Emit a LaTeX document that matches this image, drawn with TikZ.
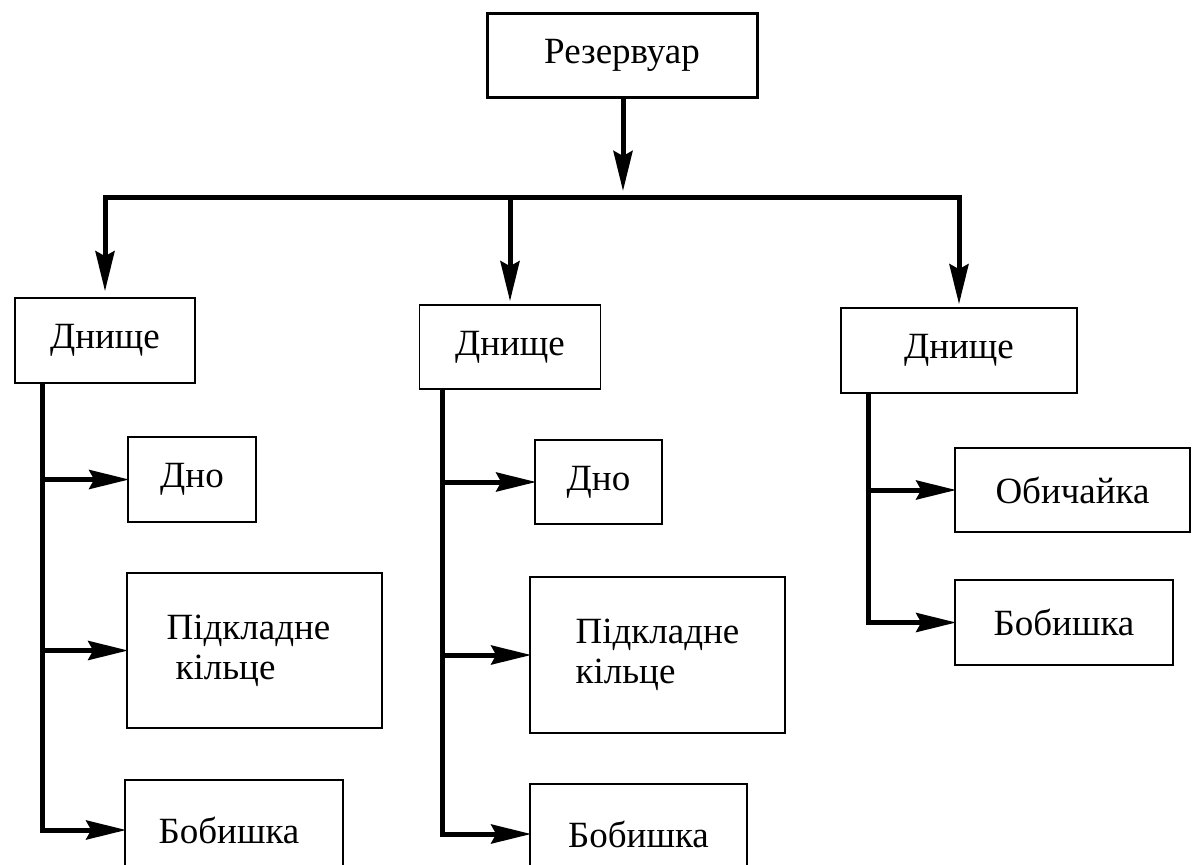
\documentclass[tikz,border=0pt]{standalone}
\usepackage{fontspec}
\setmainfont{Liberation Serif}
\usetikzlibrary{arrows.meta}
\begin{document}
\begin{tikzpicture}[x=1pt,y=-1pt,
  box/.style={draw, line width=1.6pt, rectangle, inner sep=0pt, font=\fontsize{37}{40}\selectfont},
  conn/.style={line width=5pt},
  arr/.style={conn, shorten >=-2pt, -{Stealth[length=40pt 0 0,width=19pt 0 0,inset=5pt]}}]
\clip (0,0) rectangle (1192,865);
\fill[white] (0,0) rectangle (1192,865);
% top
\node[box, line width=3pt, minimum width=270pt, minimum height=84pt] (res) at (622,55) {Резервуар};
% level 2
\node[box, minimum width=180pt, minimum height=85pt] (d1) at (105,340.5) {Днище};
\node[box, minimum width=181pt, minimum height=84pt] (d2) at (510,347) {Днище};
\node[box, minimum width=236pt, minimum height=85pt] (d3) at (959,350.5) {Днище};
% left column
\node[box, minimum width=128pt, minimum height=85pt] (l1) at (192,479.5) {Дно};
\node[box, minimum width=255pt, minimum height=155pt, align=left] (l2) at (254.5,650.5) {Підкладне\hspace*{12pt}\\\hspace*{9pt}кільце};
\node[box, minimum width=218pt, minimum height=100pt] (l3) at (234,830) {Бобишка\hspace*{10pt}};
% middle column
\node[box, minimum width=127pt, minimum height=84pt] (m1) at (598.5,482) {Дно};
\node[box, minimum width=255pt, minimum height=156pt, align=left] (m2) at (657.5,655) {Підкладне\\кільце};
\node[box, minimum width=217pt, minimum height=100pt] (m3) at (638.5,834) {Бобишка};
% right column
\node[box, minimum width=235pt, minimum height=84pt] (r1) at (1072.5,490) {Обичайка};
\node[box, minimum width=218pt, minimum height=85pt] (r2) at (1064,622.5) {Бобишка};
% coordinates
\coordinate (j0) at (623,197);
\coordinate (sL) at (42,0);
\coordinate (sM) at (442,0);
\coordinate (sR) at (868,0);
% top connectors
\draw[arr, shorten >=6pt] (res.south -| j0) -- (j0);
\draw[arr, shorten >=6pt] (j0) -| (d1.north);
\draw[arr, shorten >=3pt] (j0) -| (d3.north);
\draw[arr, shorten >=3pt] (j0 -| d2.north) -- (d2.north);
% left spine
\draw[arr] (sL |- d1.south) |- (l3.west);
\draw[arr] (sL |- l1.west) -- (l1.west);
\draw[arr] (sL |- l2.west) -- (l2.west);
% middle spine
\draw[arr] (sM |- d2.south) |- (m3.west);
\draw[arr] (sM |- m1.west) -- (m1.west);
\draw[arr] (sM |- m2.west) -- (m2.west);
% right spine
\draw[arr] (sR |- d3.south) |- (r2.west);
\draw[arr] (sR |- r1.west) -- (r1.west);
\end{tikzpicture}
\end{document}
